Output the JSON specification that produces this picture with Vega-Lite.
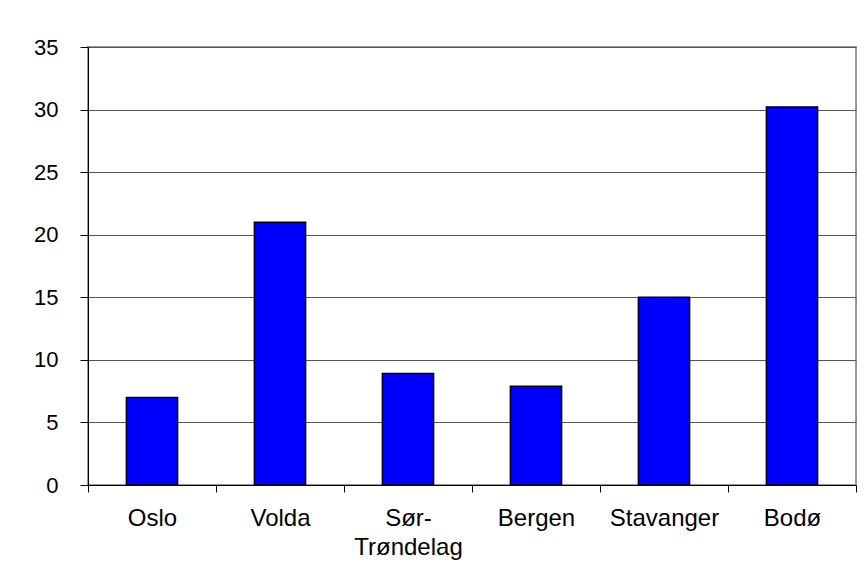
{
  "$schema": "https://vega.github.io/schema/vega-lite/v6.json",
  "width": 768,
  "height": 438,
  "autosize": {"type": "none"},
  "padding": {"left": 88, "top": 47, "right": 11, "bottom": 99},
  "background": "white",
  "config": {
    "view": {"stroke": "#999999", "strokeWidth": 2},
    "font": "Liberation Sans"
  },
  "data": {
    "values": [
      {"sted": "Oslo", "verdi": 7},
      {"sted": "Volda", "verdi": 21},
      {"sted": "Sør-Trøndelag", "verdi": 8.9},
      {"sted": "Bergen", "verdi": 7.9},
      {"sted": "Stavanger", "verdi": 15},
      {"sted": "Bodø", "verdi": 30.2}
    ]
  },
  "mark": {"type": "bar", "fill": "#0000FF", "stroke": "#000000", "strokeWidth": 1.5, "width": {"band": 0.4}},
  "encoding": {
    "x": {
      "field": "sted",
      "type": "nominal",
      "sort": null,
      "scale": {"paddingInner": 0, "paddingOuter": 0},
      "axis": {
        "title": null,
        "labelAngle": 0,
        "labelFont": "Liberation Sans",
        "labelFontSize": 24,
        "labelColor": "#000000",
        "labelPadding": 14,
        "labelLineHeight": 29,
        "labelExpr": "datum.value == 'Sør-Trøndelag' ? ['Sør-', 'Trøndelag'] : datum.label",
        "domainColor": "#000000",
        "domainWidth": 1,
        "tickColor": "#000000",
        "tickSize": 7,
        "tickBand": "extent",
        "grid": false
      }
    },
    "y": {
      "field": "verdi",
      "type": "quantitative",
      "scale": {"domain": [0, 35], "nice": false},
      "axis": {
        "title": null,
        "values": [0, 5, 10, 15, 20, 25, 30, 35],
        "labelFont": "Liberation Sans",
        "labelFontSize": 22,
        "labelColor": "#000000",
        "labelPadding": 22,
        "domainColor": "#000000",
        "tickColor": "#000000",
        "tickSize": 8,
        "grid": true,
        "gridColor": "#555555",
        "gridWidth": 1
      }
    }
  }
}
